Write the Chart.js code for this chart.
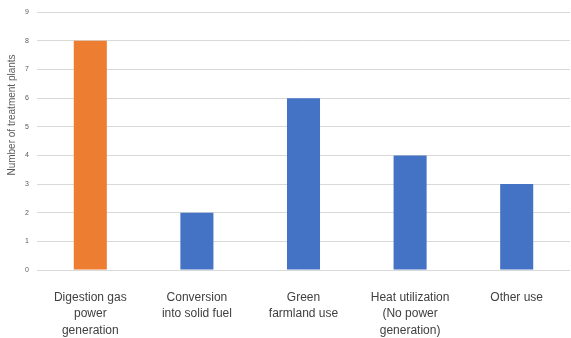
<!DOCTYPE html>
<html>
<head>
<meta charset="utf-8">
<script src="https://cdn.jsdelivr.net/npm/chart.js@4"></script>
<style>
  html, body { margin: 0; padding: 0; background: #fff; }
  #wrap { width: 571px; height: 338px; }
</style>
</head>
<body>
<div id="wrap"><canvas id="chart"></canvas></div>
<script>
const categories = [
  ["Digestion gas", "power", "generation"],
  ["Conversion", "into solid fuel"],
  ["Green", "farmland use"],
  ["Heat utilization", "(No power", "generation)"],
  ["Other use"],
];
const plantCounts = [8, 2, 6, 4, 3];
const barColors = ["#ED7D31", "#4472C4", "#4472C4", "#4472C4", "#4472C4"];
const yTicks = [0, 1, 2, 3, 4, 5, 6, 7, 8, 9];
const yTitle = "Number of treatment plants";

// axis title sits a bit above the middle in the original, so draw it by hand
const yTitlePlugin = {
  id: "yTitle",
  afterDraw(chart) {
    const ctx = chart.ctx;
    ctx.save();
    ctx.translate(12, 115);
    ctx.rotate(-Math.PI / 2);
    ctx.fillStyle = "#595959";
    ctx.font = "10px 'Liberation Sans', Arial, sans-serif";
    ctx.textAlign = "center";
    ctx.textBaseline = "middle";
    ctx.fillText(yTitle, 0, 0);
    ctx.restore();
  },
};

new Chart(document.getElementById("chart"), {
  type: "bar",
  data: {
    labels: categories,
    datasets: [
      {
        data: plantCounts,
        backgroundColor: barColors,
        barPercentage: 0.31,
        categoryPercentage: 1,
      },
    ],
  },
  plugins: [yTitlePlugin],
  options: {
    responsive: true,
    maintainAspectRatio: false,
    animation: false,
    layout: { padding: { top: 3, right: 1, left: 0, bottom: 0 } },
    plugins: {
      legend: { display: false },
      tooltip: { enabled: false },
    },
    scales: {
      x: {
        grid: { display: false },
        border: { display: false },
        ticks: {
          color: "#404040",
          font: { family: "Liberation Sans, Arial, sans-serif", size: 12, lineHeight: 1.38 },
          padding: 11,
          maxRotation: 0,
          autoSkip: false,
        },
        afterFit(scale) {
          scale.height = 68;
        },
      },
      y: {
        min: 0,
        max: 9,
        afterBuildTicks(scale) {
          scale.ticks = yTicks.map((v) => ({ value: v }));
        },
        grid: { color: "#d9d9d9", drawTicks: false },
        border: { display: false },
        ticks: {
          color: "#595959",
          font: { family: "Liberation Sans, Arial, sans-serif", size: 7 },
          padding: 8,
        },
        afterFit(scale) {
          scale.width = 37;
        },
      },
    },
  },
});
</script>
</body>
</html>
